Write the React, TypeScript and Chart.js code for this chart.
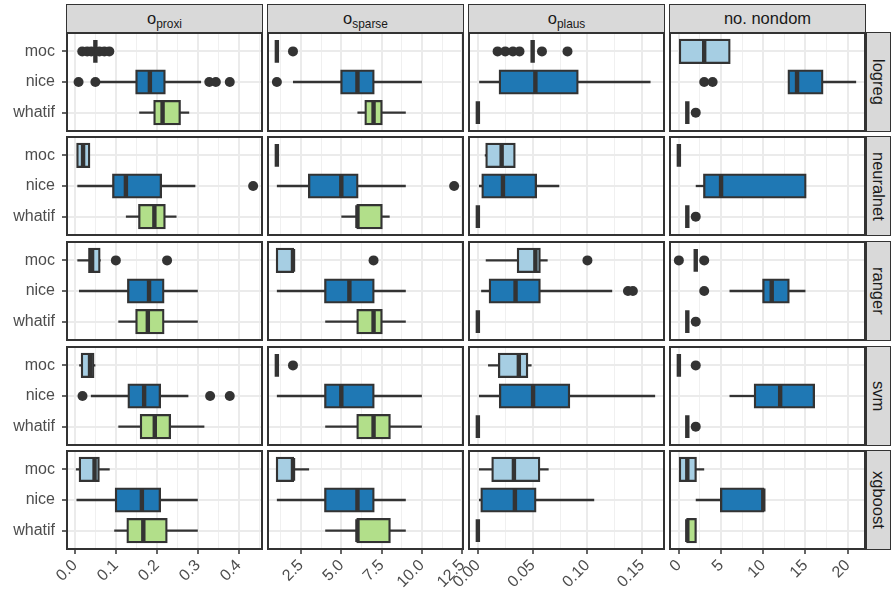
import React, { useEffect, useRef } from 'react';
import { Chart, registerables } from 'chart.js';

Chart.register(...registerables);

// ---------------- data ----------------
const MODELS = ['logreg', 'neuralnet', 'ranger', 'svm', 'xgboost'];
const METHODS = ['moc', 'nice', 'whatif'];

// five-number summaries per method: [lower whisker, q1, median, q3, upper whisker]
// o_proxi
const PROXI_LOGREG = [[0.05, 0.05, 0.05, 0.05, 0.05], [0.059, 0.15, 0.183, 0.219, 0.308], [0.157, 0.194, 0.214, 0.256, 0.279]];
const PROXI_NEURALNET = [[0.006, 0.006, 0.02, 0.035, 0.035], [0.006, 0.0935, 0.1245, 0.21, 0.294], [0.1245, 0.157, 0.194, 0.219, 0.248]];
const PROXI_RANGER = [[0.006, 0.035, 0.042, 0.06, 0.063], [0.01, 0.13, 0.181, 0.216, 0.3], [0.106, 0.15, 0.178, 0.216, 0.3]];
const PROXI_SVM = [[0.0105, 0.017, 0.037, 0.045, 0.05], [0.039, 0.131, 0.169, 0.2075, 0.277], [0.106, 0.161, 0.195, 0.232, 0.316]];
const PROXI_XGBOOST = [[0.0024, 0.012, 0.048, 0.058, 0.085], [0.004, 0.1, 0.1635, 0.2075, 0.3], [0.096, 0.1285, 0.167, 0.2237, 0.3]];
const PROXI_OUT_LOGREG = [[0.018, 0.03, 0.04, 0.06, 0.072, 0.084], [0.009, 0.05, 0.328, 0.344, 0.378], []];
const PROXI_OUT_NEURALNET = [[], [0.435], []];
const PROXI_OUT_RANGER = [[0.1, 0.225], [], []];
const PROXI_OUT_SVM = [[], [0.0186, 0.33, 0.378], []];
const PROXI_OUT_XGBOOST = [[], [], []];

// o_sparse
const SPARSE_LOGREG = [[1, 1, 1, 1, 1], [2, 5, 6, 7, 10], [6, 6.5, 7, 7.5, 9]];
const SPARSE_NEURALNET = [[1, 1, 1, 1, 1], [1, 3, 5, 6, 9], [5, 6, 6, 7.5, 8]];
const SPARSE_RANGER = [[1, 1, 2, 2, 2], [1, 4, 5.5, 7, 9], [4, 6, 7, 7.5, 9]];
const SPARSE_SVM = [[1, 1, 1, 1, 1], [1, 4, 5, 7, 10], [4, 6, 7, 8, 10]];
const SPARSE_XGBOOST = [[1, 1, 2, 2, 3], [1, 4, 6, 7, 9], [4, 6, 6, 8, 9]];
const SPARSE_OUT_LOGREG = [[2], [1], []];
const SPARSE_OUT_NEURALNET = [[], [12], []];
const SPARSE_OUT_RANGER = [[7], [], []];
const SPARSE_OUT_SVM = [[2], [], []];
const SPARSE_OUT_XGBOOST = [[], [], []];

// o_plaus
const PLAUS_LOGREG = [[0.05, 0.05, 0.05, 0.05, 0.05], [0.0012, 0.02, 0.0525, 0.091, 0.1576], [0, 0, 0, 0, 0]];
const PLAUS_NEURALNET = [[0.0063, 0.0078, 0.0217, 0.0335, 0.0335], [0.001, 0.0042, 0.0229, 0.053, 0.0743], [0, 0, 0, 0, 0]];
const PLAUS_RANGER = [[0.0072, 0.0365, 0.0525, 0.0564, 0.0637], [0.003, 0.0109, 0.0344, 0.0564, 0.1226], [0, 0, 0, 0, 0]];
const PLAUS_SVM = [[0.0093, 0.0193, 0.0374, 0.045, 0.049], [0.001, 0.0202, 0.0504, 0.0833, 0.1618], [0, 0, 0, 0, 0]];
const PLAUS_XGBOOST = [[0.001, 0.0133, 0.0329, 0.056, 0.0646], [0.001, 0.0033, 0.0338, 0.0525, 0.1062], [0, 0, 0, 0, 0]];
const PLAUS_OUT_LOGREG = [[0.018, 0.025, 0.032, 0.038, 0.0585, 0.0818], [], []];
const PLAUS_OUT_NEURALNET = [[], [], []];
const PLAUS_OUT_RANGER = [[0.1], [0.137, 0.1415], []];
const PLAUS_OUT_SVM = [[], [], []];
const PLAUS_OUT_XGBOOST = [[], [], []];

// no. nondom
const NONDOM_LOGREG = [[0, 0, 3, 6, 6], [13, 13, 14, 17, 21], [1, 1, 1, 1, 1]];
const NONDOM_NEURALNET = [[0, 0, 0, 0, 0], [2, 3, 5, 15, 15], [1, 1, 1, 1, 1]];
const NONDOM_RANGER = [[2, 2, 2, 2, 2], [6, 10, 11, 13, 15], [1, 1, 1, 1, 1]];
const NONDOM_SVM = [[0, 0, 0, 0, 0], [6, 9, 12, 16, 16], [1, 1, 1, 1, 1]];
const NONDOM_XGBOOST = [[0, 0, 1, 2, 3], [2, 5, 10, 10, 10], [1, 1, 1, 2, 2]];
const NONDOM_OUT_LOGREG = [[], [3, 4], [2]];
const NONDOM_OUT_NEURALNET = [[], [], [2]];
const NONDOM_OUT_RANGER = [[0, 3], [3], [2]];
const NONDOM_OUT_SVM = [[2], [], [2]];
const NONDOM_OUT_XGBOOST = [[], [], []];

// axis ticks
const PROXI_TICKS = [0, 0.1, 0.2, 0.3, 0.4];
const PROXI_LABELS = ['0.0', '0.1', '0.2', '0.3', '0.4'];
const PROXI_MINOR = [0.05, 0.15, 0.25, 0.35, 0.45];
const SPARSE_TICKS = [2.5, 5, 7.5, 10, 12.5];
const SPARSE_LABELS = ['2.5', '5.0', '7.5', '10.0', '12.5'];
const SPARSE_MINOR = [1.25, 3.75, 6.25, 8.75, 11.25];
const PLAUS_TICKS = [0, 0.05, 0.1, 0.15];
const PLAUS_LABELS = ['0.00', '0.05', '0.10', '0.15'];
const PLAUS_MINOR = [0.025, 0.075, 0.125];
const NONDOM_TICKS = [0, 5, 10, 15, 20];
const NONDOM_LABELS = ['0', '5', '10', '15', '20'];
const NONDOM_MINOR = [2.5, 7.5, 12.5, 17.5];

const STRIP_MAIN = ['o', 'o', 'o', 'no. nondom'];
const STRIP_SUB = ['proxi', 'sparse', 'plaus', ''];

// grouping
const STATS = [
  [PROXI_LOGREG, PROXI_NEURALNET, PROXI_RANGER, PROXI_SVM, PROXI_XGBOOST],
  [SPARSE_LOGREG, SPARSE_NEURALNET, SPARSE_RANGER, SPARSE_SVM, SPARSE_XGBOOST],
  [PLAUS_LOGREG, PLAUS_NEURALNET, PLAUS_RANGER, PLAUS_SVM, PLAUS_XGBOOST],
  [NONDOM_LOGREG, NONDOM_NEURALNET, NONDOM_RANGER, NONDOM_SVM, NONDOM_XGBOOST],
];
const OUTLIERS = [
  [PROXI_OUT_LOGREG, PROXI_OUT_NEURALNET, PROXI_OUT_RANGER, PROXI_OUT_SVM, PROXI_OUT_XGBOOST],
  [SPARSE_OUT_LOGREG, SPARSE_OUT_NEURALNET, SPARSE_OUT_RANGER, SPARSE_OUT_SVM, SPARSE_OUT_XGBOOST],
  [PLAUS_OUT_LOGREG, PLAUS_OUT_NEURALNET, PLAUS_OUT_RANGER, PLAUS_OUT_SVM, PLAUS_OUT_XGBOOST],
  [NONDOM_OUT_LOGREG, NONDOM_OUT_NEURALNET, NONDOM_OUT_RANGER, NONDOM_OUT_SVM, NONDOM_OUT_XGBOOST],
];
const MAJORS = [PROXI_TICKS, SPARSE_TICKS, PLAUS_TICKS, NONDOM_TICKS];
const LABELS = [PROXI_LABELS, SPARSE_LABELS, PLAUS_LABELS, NONDOM_LABELS];
const MINORS = [PROXI_MINOR, SPARSE_MINOR, PLAUS_MINOR, NONDOM_MINOR];

// ---------------- style / layout ----------------
const FONT = '"Liberation Sans", Arial, Helvetica, sans-serif';
const FILLS = ['#A6CEE3', '#1F78B4', '#B2DF8A'];
const LINE = '#333333';
const GRID_MAJOR = '#EBEBEB';
const GRID_MINOR = '#F0F0F0';
const AXIS_TEXT = '#4D4D4D';
const STRIP_TEXT = '#1A1A1A';
const STRIP_FILL = '#D9D9D9';

const PANEL_LEFT = [67, 268, 469, 670];
const PANEL_W = 195;
const PANEL_TOP = [33, 137, 242, 347, 451];
const PANEL_H = 98;
const AXIS_W = 62;
const AXIS_H = 46;
const MARGIN = 30;
const HALF_BOX = 0.375;
const TICK_FONT = 16;
const STRIP_FONT = 16.5;
const LINE_W = 2.3;

function columnLimits(c: number): [number, number] {
  const vals: number[] = [];
  STATS[c].forEach((rows) => rows.forEach((s) => vals.push(...s)));
  OUTLIERS[c].forEach((rows) => rows.forEach((o) => vals.push(...o)));
  const lo = Math.min(...vals);
  const hi = Math.max(...vals);
  const pad = (hi - lo) * 0.05;
  return [lo - pad, hi + pad];
}

const panelBorder = {
  id: 'panelBorder',
  afterDatasetsDraw(chart: any) {
    const { ctx, chartArea } = chart;
    ctx.save();
    ctx.strokeStyle = LINE;
    ctx.lineWidth = 2;
    ctx.strokeRect(chartArea.left, chartArea.top, chartArea.right - chartArea.left, chartArea.bottom - chartArea.top);
    ctx.restore();
  },
};

function makeConfig(r: number, c: number): any {
  const stats = STATS[c][r];
  const outs = OUTLIERS[c][r];
  const [xmin, xmax] = columnLimits(c);
  const major = MAJORS[c];
  const minor = MINORS[c];
  const labels = LABELS[c];
  const majorIndex = (v: number) => major.findIndex((m) => Math.abs(m - v) < 1e-9);
  const isMajor = (v: number) => majorIndex(v) >= 0;
  const isLeft = c === 0;
  const isBottom = r === MODELS.length - 1;

  const whiskers: any[] = [];
  stats.forEach((s, i) => {
    whiskers.push({ x: s[0], y: i }, { x: s[1], y: i }, { x: null, y: null });
    whiskers.push({ x: s[3], y: i }, { x: s[4], y: i }, { x: null, y: null });
  });
  const medians: any[] = [];
  stats.forEach((s, i) => {
    medians.push({ x: s[2], y: i - HALF_BOX }, { x: s[2], y: i + HALF_BOX }, { x: null, y: null });
  });
  const points: any[] = [];
  outs.forEach((arr, i) => arr.forEach((v) => points.push({ x: v, y: i })));

  return {
    type: 'bar',
    data: {
      datasets: [
        {
          type: 'line',
          data: whiskers,
          borderColor: LINE,
          borderWidth: LINE_W,
          pointRadius: 0,
          spanGaps: false,
          borderCapStyle: 'butt',
          fill: false,
          order: 3,
        },
        {
          type: 'bar',
          indexAxis: 'y',
          data: stats.map((s, i) => ({ x: [s[1], s[3]], y: i })),
          backgroundColor: FILLS,
          borderColor: LINE,
          borderWidth: LINE_W,
          borderSkipped: false,
          barPercentage: 0.75,
          categoryPercentage: 1,
          inflateAmount: 1.1,
          order: 2,
        },
        {
          type: 'line',
          data: medians,
          borderColor: LINE,
          borderWidth: 4.4,
          pointRadius: 0,
          spanGaps: false,
          borderCapStyle: 'butt',
          fill: false,
          order: 1,
        },
        {
          type: 'scatter',
          data: points,
          pointRadius: 5,
          pointBackgroundColor: LINE,
          pointBorderWidth: 0,
          order: 0,
        },
      ],
    },
    options: {
      responsive: false,
      animation: false,
      devicePixelRatio: 1,
      events: [],
      layout: { padding: MARGIN },
      plugins: { legend: { display: false }, tooltip: { enabled: false } },
      scales: {
        x: {
          type: 'linear',
          min: xmin,
          max: xmax,
          offset: false,
          afterBuildTicks: (s: any) => {
            s.ticks = [...major, ...minor].sort((a, b) => a - b).map((v) => ({ value: v }));
          },
          afterFit: (s: any) => {
            s.height = isBottom ? AXIS_H : 0;
            s.paddingLeft = 0;
            s.paddingRight = 0;
          },
          border: { display: false },
          grid: {
            offset: false,
            color: (ctx: any) => (ctx.tick && isMajor(ctx.tick.value) ? GRID_MAJOR : GRID_MINOR),
            lineWidth: (ctx: any) => (ctx.tick && isMajor(ctx.tick.value) ? 2 : 1),
            drawTicks: isBottom,
            tickLength: 5,
            tickWidth: 1.5,
            tickColor: (ctx: any) => (ctx.tick && isMajor(ctx.tick.value) ? LINE : 'rgba(0,0,0,0)'),
          },
          ticks: {
            display: isBottom,
            autoSkip: false,
            minRotation: 45,
            maxRotation: 45,
            padding: 2,
            color: AXIS_TEXT,
            font: { family: FONT, size: TICK_FONT },
            callback: (v: number) => {
              const k = majorIndex(v);
              return k >= 0 ? labels[k] : '';
            },
          },
        },
        y: {
          type: 'linear',
          min: -0.6,
          max: 2.6,
          reverse: true,
          offset: false,
          afterBuildTicks: (s: any) => {
            s.ticks = METHODS.map((_, i) => ({ value: i }));
          },
          afterFit: (s: any) => {
            s.width = isLeft ? AXIS_W : 0;
          },
          border: { display: false },
          grid: {
            offset: false,
            color: GRID_MAJOR,
            lineWidth: 2,
            drawTicks: isLeft,
            tickLength: 5,
            tickWidth: 1.5,
            tickColor: LINE,
          },
          ticks: {
            display: isLeft,
            padding: 7,
            color: AXIS_TEXT,
            font: { family: FONT, size: TICK_FONT },
            callback: (v: number) => METHODS[v],
          },
        },
      },
    },
    plugins: [panelBorder],
  };
}

function Panel({ r, c }: { r: number; c: number }) {
  const ref = useRef<HTMLCanvasElement>(null);
  useEffect(() => {
    if (!ref.current) return;
    const chart = new Chart(ref.current, makeConfig(r, c));
    return () => chart.destroy();
  }, [r, c]);
  const extraLeft = c === 0 ? AXIS_W : 0;
  const extraBottom = r === MODELS.length - 1 ? AXIS_H : 0;
  const x = PANEL_LEFT[c] - extraLeft - MARGIN;
  const y = PANEL_TOP[r] - MARGIN;
  const w = PANEL_W + extraLeft + 2 * MARGIN;
  const h = PANEL_H + extraBottom + 2 * MARGIN;
  return (
    <canvas
      ref={ref}
      width={w}
      height={h}
      style={{ position: 'absolute', left: x, top: y, width: w, height: h }}
    />
  );
}

export default function App() {
  const panels: any[] = [];
  for (let r = 0; r < MODELS.length; r++) {
    for (let c = 0; c < STATS.length; c++) {
      panels.push(<Panel key={`${r}-${c}`} r={r} c={c} />);
    }
  }
  return (
    <div
      style={{
        position: 'absolute',
        left: 0,
        top: 0,
        width: 892,
        height: 594,
        overflow: 'hidden',
        background: '#ffffff',
        fontFamily: FONT,
      }}
    >
      {STRIP_MAIN.map((t, c) => (
        <div
          key={`top-${c}`}
          style={{
            position: 'absolute',
            left: PANEL_LEFT[c] - 1,
            top: 4,
            width: PANEL_W + 2,
            height: 29,
            boxSizing: 'border-box',
            background: STRIP_FILL,
            border: `1.5px solid ${LINE}`,
            display: 'flex',
            alignItems: 'center',
            justifyContent: 'center',
            fontSize: STRIP_FONT,
            color: STRIP_TEXT,
          }}
        >
          <span>
            {t}
            {STRIP_SUB[c] ? (
              <span style={{ fontSize: '0.72em', position: 'relative', top: '0.35em' }}>{STRIP_SUB[c]}</span>
            ) : null}
          </span>
        </div>
      ))}
      {MODELS.map((m, r) => (
        <div
          key={`right-${r}`}
          style={{
            position: 'absolute',
            left: PANEL_LEFT[3] + PANEL_W + 1,
            top: PANEL_TOP[r] - 1,
            width: 25,
            height: PANEL_H + 2,
            boxSizing: 'border-box',
            background: STRIP_FILL,
            border: `1.5px solid ${LINE}`,
            display: 'flex',
            alignItems: 'center',
            justifyContent: 'center',
            fontSize: STRIP_FONT,
            color: STRIP_TEXT,
          }}
        >
          <span style={{ writingMode: 'vertical-rl' }}>{m}</span>
        </div>
      ))}
      {panels}
    </div>
  );
}
